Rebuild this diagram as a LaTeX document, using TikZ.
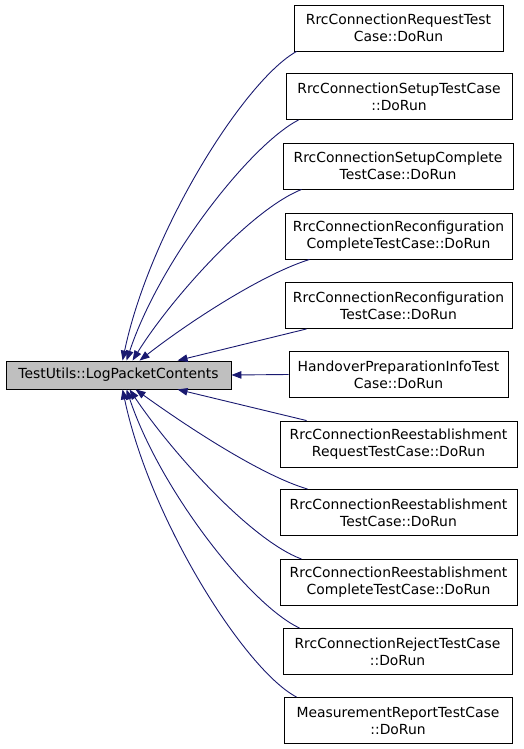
\documentclass[tikz,border=0pt]{standalone}
\usepackage{fontspec}
\setmainfont{DejaVu Sans}
\usetikzlibrary{arrows.meta}
\definecolor{edgeblue}{HTML}{191970}
\definecolor{nodegrey}{HTML}{BFBFBF}
\begin{document}
\begin{tikzpicture}[x=1pt,y=-1pt,
  box/.style={draw=black, fill=white, line width=0.9pt, inner sep=0pt, align=center,
    font=\fontsize{13.9}{17}\selectfont, minimum height=46pt},
  edge/.style={draw=edgeblue, line width=0.9pt, -{Triangle[length=10pt,width=7.5pt]}}]
\useasboundingbox (0,0) rectangle (523,749);
\node[box, fill=nodegrey, minimum width=225pt, minimum height=28pt] (L) at (118.5,375) {TestUtils::LogPacketContents};
\node[box, minimum width=209pt] (r1) at (398.5,28) {RrcConnectionRequestTest\\Case::DoRun};
\node[box, minimum width=226pt] (r2) at (399,96.5) {RrcConnectionSetupTestCase\\::DoRun};
\node[box, minimum width=230pt] (r3) at (398,166) {RrcConnectionSetupComplete\\TestCase::DoRun};
\node[box, minimum width=227pt] (r4) at (398.5,236) {RrcConnectionReconfiguration\\CompleteTestCase::DoRun};
\node[box, minimum width=227pt] (r5) at (398.5,305.5) {RrcConnectionReconfiguration\\TestCase::DoRun};
\node[box, minimum width=219pt] (r6) at (398.5,374.5) {HandoverPreparationInfoTest\\Case::DoRun};
\node[box, minimum width=237pt] (r7) at (398.5,444) {RrcConnectionReestablishment\\RequestTestCase::DoRun};
\node[box, minimum width=237pt] (r8) at (398.5,512.5) {RrcConnectionReestablishment\\TestCase::DoRun};
\node[box, minimum width=237pt] (r9) at (398.5,582.5) {RrcConnectionReestablishment\\CompleteTestCase::DoRun};
\node[box, minimum width=229pt] (r10) at (397.5,651.5) {RrcConnectionRejectTestCase\\::DoRun};
\node[box, minimum width=228pt] (r11) at (398,720.5) {MeasurementReportTestCase\\::DoRun};
% edges
\draw[edge] ([xshift=3pt]r1.south west) .. controls (245,80) and (150,230) .. ([xshift=117pt]L.north west);
\draw[edge] ([xshift=13pt]r2.south west) .. controls (250,145) and (160,260) .. ([xshift=121pt]L.north west);
\draw[edge] ([xshift=19pt]r3.south west) .. controls (250,210) and (170,300) .. ([xshift=127pt]L.north west);
\draw[edge] ([xshift=25pt]r4.south west) .. controls (260,275) and (185,325) .. ([xshift=134pt]L.north west);
\draw[edge] ([xshift=22pt]r5.south west) -- ([xshift=172pt]L.north west);
\draw[edge] (r6.west) -- (L.east);
\draw[edge] ([xshift=27pt]r7.north west) -- ([xshift=172pt]L.south west);
\draw[edge] ([xshift=28pt]r8.north west) .. controls (260,475) and (185,425) .. ([xshift=130pt]L.south west);
\draw[edge] ([xshift=22pt]r9.north west) .. controls (250,540) and (170,450) .. ([xshift=124pt]L.south west);
\draw[edge] ([xshift=17pt]r10.north west) .. controls (250,605) and (160,490) .. ([xshift=121pt]L.south west);
\draw[edge] ([xshift=13pt]r11.north west) .. controls (245,670) and (150,520) .. ([xshift=117pt]L.south west);
\end{tikzpicture}
\end{document}
